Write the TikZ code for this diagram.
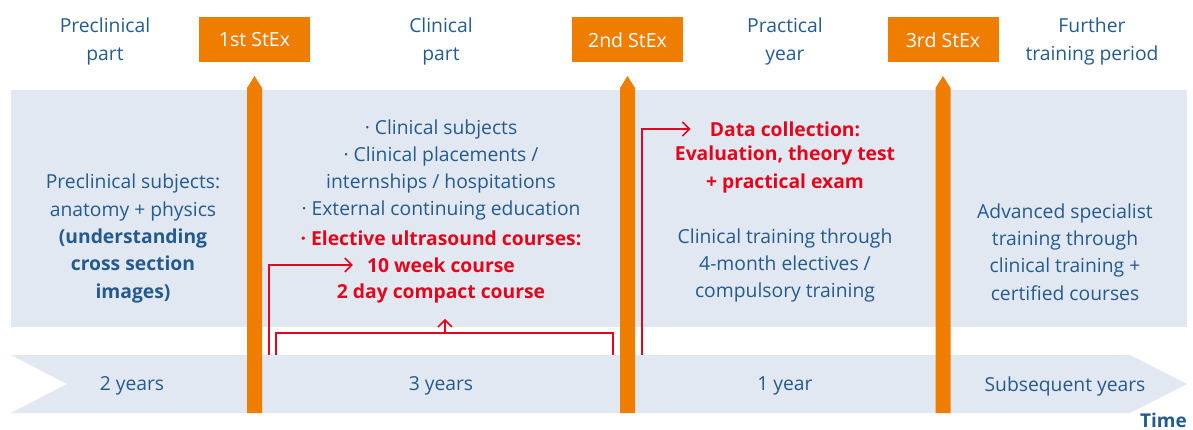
\documentclass[tikz,border=0pt]{standalone}
\usepackage{fontspec}
\setmainfont{Open Sans}
\usetikzlibrary{arrows.meta,positioning}

\definecolor{bandblue}{HTML}{E1E8F1}
\definecolor{textblue}{HTML}{245B8E}
\definecolor{stexorange}{HTML}{EF7D00}
\definecolor{markred}{HTML}{E3051B}

\begin{document}
\begin{tikzpicture}
        [x=1pt,y=-1pt,
        txt/.style={text=textblue, align=center, inner sep=3pt, font=\fontsize{19.3}{27.3}\selectfont},
        redtxt/.style={txt, text=markred, font=\fontsize{19.3}{27.3}\selectfont\bfseries},
        stexbox/.style={fill=stexorange, text=white, minimum width=111pt, minimum height=45pt, font=\fontsize{19.5}{22}\selectfont},
        band/.style={fill=bandblue},
        redline/.style={markred, line width=1.6pt},
        redarrow/.style={redline, -{Straight Barb[length=7pt,width=14pt,line width=1.6pt]}}]

        \useasboundingbox (0,0) rectangle (1193,430);

        % light bands
        \fill[band] (11,90) rectangle (1187,327);
        \fill[band] (11,355) -- (1130,355) -- (1187,384) -- (1130,413) -- (11,413) -- (67,384) -- cycle;

        % red feedback lines (behind the bars)
        \coordinate (tenfoot) at (269,355);
        \coordinate (loopl) at (276,355);
        \coordinate (loopr) at (613,355);
        \coordinate (loopmid) at (445,333);
        \coordinate (datafoot) at (642,355);

        % orange exam bars with pointed tops
        \foreach \cx in {254.5,627.5,943}
          \fill[stexorange] (\cx-7.5,413) -- (\cx-7.5,88) -- (\cx,76) -- (\cx+7.5,88) -- (\cx+7.5,413) -- cycle;

        % exam boxes
        \node[stexbox] (ex1) at (254.5,40) {1st StEx};
        \node[stexbox] (ex2) at (627.5,40) {2nd StEx};
        \node[stexbox] (ex3) at (943,40) {3rd StEx};

        % phase titles
        \node[txt] (pre) at (105,41.5) {Preclinical\\part};
        \node[txt] (clin) at (441,41.5) {Clinical\\part};
        \node[txt] (prac) at (785,41.5) {Practical\\year};
        \node[txt] (fur) at (1092,41.5) {Further\\training period};

        % contents of the upper band
        \node[txt] (presub) at (133,238.5) {Preclinical subjects:\\anatomy + physics\\\textbf{(understanding}\\\textbf{cross section}\\\textbf{images)}};
        \node[txt] (clinsub) at (441,170) {· Clinical subjects\\· Clinical placements /\\internships / hospitations\\· External continuing education};
        \node[redtxt] (elect) at (441,238) {· Elective ultrasound courses:};
        \node[redtxt] (ten) at (441,265) {10 week course};
        \node[redtxt] (two) at (441,293) {2 day compact course};
        \node[redtxt] (data) at (785,129) {Data collection:};
        \node[redtxt] (eval) at (785,169.5) {Evaluation, theory test\\+ practical exam};
        \node[txt] (pj) at (785,265.5) {Clinical training through\\4-month electives /\\compulsory training};
        \node[txt] (adv) at (1065,252) {Advanced specialist\\training through\\clinical training +\\certified courses};

        % durations
        \node[txt] (y2) at (132,386) {2 years};
        \node[txt] (y3) at (441,386) {3 years};
        \node[txt] (y1) at (785,386) {1 year};
        \node[txt] (ysub) at (1065,386) {Subsequent years};
        \node[txt, font=\fontsize{19}{22}\selectfont\bfseries, anchor=south east, inner sep=0pt] (time) at (1187,428) {Time};

        % red arrows
        \draw[redarrow, shorten >=11pt] (tenfoot) |- (ten.west);
        \draw[redline] (loopl) |- (loopmid) -| (loopr);
        \draw[redarrow, shorten >=13pt] (loopmid) -- (loopmid |- two.south);
        \draw[redarrow, shorten >=16pt] (datafoot) |- (data.west);

\end{tikzpicture}
\end{document}
